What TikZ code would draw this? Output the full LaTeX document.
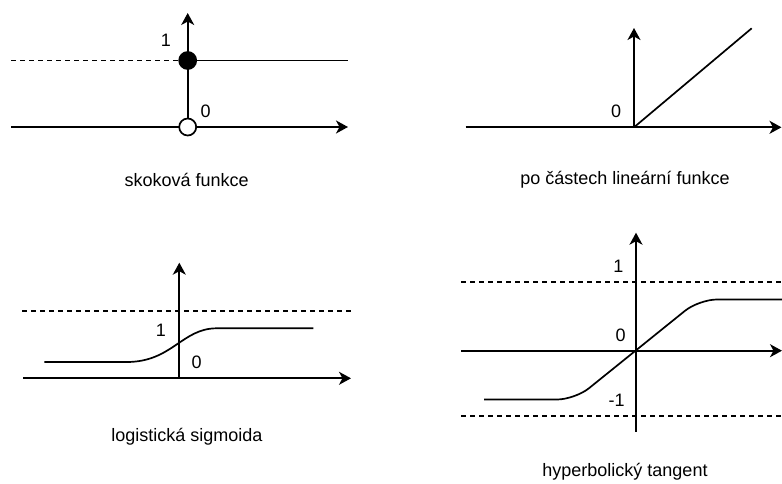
\documentclass[tikz,border=0pt]{standalone}
\usepackage{fontspec}
\setmainfont{Liberation Sans}
\usetikzlibrary{arrows.meta,positioning,calc}
\tikzset{
  axis/.style   ={line width=1.7pt, draw=black, -{Stealth[length=12pt,width=13pt,inset=3.5pt]}},
  curve/.style  ={line width=1.7pt, draw=black},
  guide/.style  ={line width=1.7pt, draw=black, dash pattern=on 5pt off 4pt},
  lbl/.style    ={inner sep=0pt, font=\fontsize{18}{22}\selectfont},
  captxt/.style ={inner sep=0pt, font=\fontsize{18}{22}\selectfont},
  dotfull/.style={circle, draw=black, line width=1.7pt, fill=black, minimum size=17pt, inner sep=0pt},
  dotopen/.style={circle, draw=black, line width=1.7pt, fill=white, minimum size=17pt, inner sep=0pt},
}

\begin{document}
\begin{tikzpicture}[x=1pt,y=-1pt]
\useasboundingbox (0,0) rectangle (782,484);

% skokova funkce
\coordinate (o1) at (187.7,127);
\draw[axis] (11,127) -- (348,127);
\draw[axis] (o1) -- (187.7,13);
\draw[guide] (11,60.5) -- (187.7,60.5);
\draw[curve] (187.7,60.5) -- (348,60.5);
\node[dotfull] (one1) at (187.7,60.5) {};
\node[dotopen] (zero1) at (o1) {};
\node[lbl] at (166,40) {1};
\node[lbl] at (205.7,111.5) {0};
\node[captxt] (c1) at (186.7,180) {skoková funkce};

% po castech linearni funkce
\coordinate (o2) at (634,127.3);
\draw[axis] (465.7,127.3) -- (781.5,127.3);
\draw[axis] (o2) -- (634,28);
\draw[curve] (o2) -- (751.7,28.3);
\node[lbl] at (616,111) {0};
\node[captxt] (c2) at (625,180) {po částech lineární funkce};

% logisticka sigmoida
\coordinate (o3) at (179.3,378.3);
\draw[axis] (23.3,378.3) -- (351,378.3);
\draw[axis] (o3) -- (179.3,262.7);
\draw[guide] (22.3,311) -- (352,311);
\draw[curve] (44.3,362) -- (126.7,362)
  .. controls (172,362) and (182,328.3) .. (216.7,328.3) -- (313.3,328.3);
\node[lbl] at (161,330.7) {1};
\node[lbl] at (196.7,362.3) {0};
\node[captxt] (c3) at (187,437) {logistická sigmoida};

% hyperbolicky tangent
\coordinate (o4) at (636,350.7);
\draw[axis] (461,350.7) -- (782,350.7);
\draw[axis] (636,431.7) -- (636,232.7);
\draw[guide] (461,282.3) -- (782,282.3);
\draw[guide] (461,415.7) -- (782,415.7);
\draw[curve, rounded corners=18pt] (484,399.5) -- (575,399.5) -- (699,299.5) -- (800,299.5);
\node[lbl] at (618.3,266.7) {1};
\node[lbl] at (620.7,335) {0};
\node[lbl] at (616.7,400) {-1};
\node[captxt] (c4) at (625,472) {hyperbolický tangent};
\end{tikzpicture}
\end{document}
